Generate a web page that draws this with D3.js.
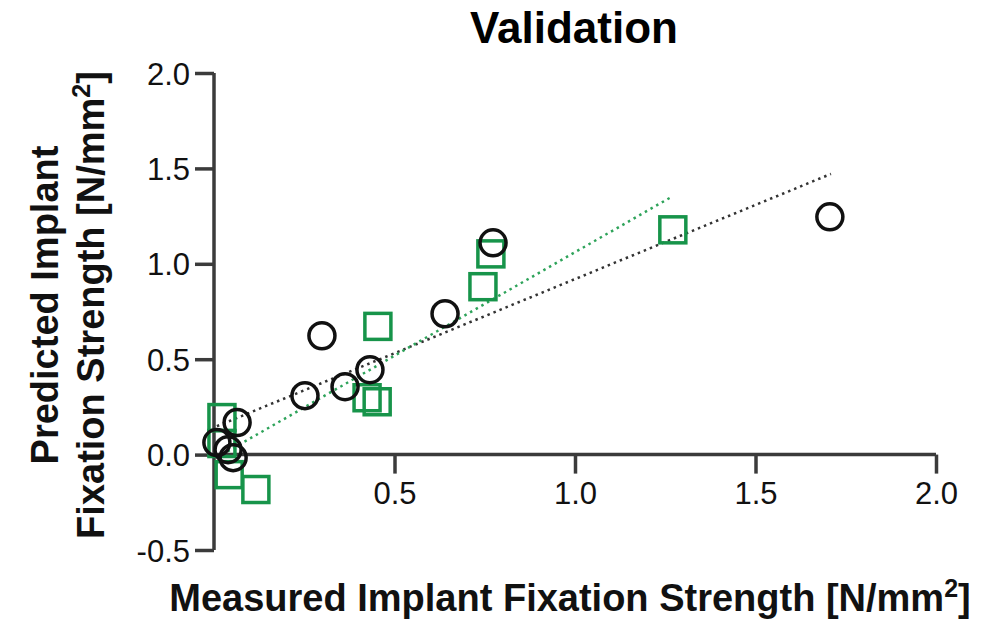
<!DOCTYPE html>
<html>
<head>
<meta charset="utf-8">
<script src="https://cdn.jsdelivr.net/npm/d3@7"></script>
<style>
  body { margin: 0; background: #fff; }
  text { font-family: "Liberation Sans", Arial, sans-serif; }
</style>
</head>
<body>
<div id="chart"></div>
<script>
// measured (x) vs predicted (y) fixation strength
var circleX = [1.706, 0.773, 0.640, 0.299, 0.432, 0.363, 0.252, 0.064, 0.008, 0.039, 0.053];
var circleY = [1.246, 1.110, 0.738, 0.623, 0.445, 0.356, 0.309, 0.168, 0.063, 0.026, -0.016];
var squareX = [1.271, 0.767, 0.745, 0.454, 0.424, 0.452, 0.022, 0.022, 0.042, 0.116];
var squareY = [1.178, 1.052, 0.880, 0.672, 0.298, 0.277, 0.194, 0.058, -0.105, -0.183];
// fitted lines, end points
var circleFitX = [0.008, 1.709];
var circleFitY = [0.149, 1.471];
var squareFitX = [0.022, 1.263];
var squareFitY = [0.000, 1.346];
var xTicks = [0.5, 1.0, 1.5, 2.0];
var yTicks = [-0.5, 0.0, 0.5, 1.0, 1.5, 2.0];

var width = 985, height = 619;
var axisColor = "#3b3b3b", green = "#17944a";

var svg = d3.select("#chart")
    .append("svg")
    .attr("width", width)
    .attr("height", height);

var x = d3.scaleLinear().domain([0, 2]).range([214, 936]);
var y = d3.scaleLinear().domain([-0.5, 2]).range([550, 73]);

// plain hyphen for negatives, like the original
var fmt = function (d) { return d.toFixed(1); };

// y axis sits at x = 0
var yAxis = svg.append("g")
    .attr("transform", "translate(" + x(0) + ",0)")
    .call(d3.axisLeft(y).tickValues(yTicks).tickFormat(fmt).tickSize(19).tickPadding(5));

// x axis sits at y = 0
var xAxis = svg.append("g")
    .attr("transform", "translate(0," + y(0) + ")")
    .call(d3.axisBottom(x).tickValues(xTicks).tickFormat(fmt).tickSize(19).tickPadding(8));

[xAxis, yAxis].forEach(function (g) {
    g.select(".domain").attr("stroke", axisColor).attr("stroke-width", 3.5);
    g.selectAll(".tick line").attr("stroke", axisColor).attr("stroke-width", 3.5);
    g.selectAll(".tick text")
        .attr("fill", "#111")
        .style("font-size", "31px")
        .style("font-family", "'Liberation Sans', Arial, sans-serif");
});
yAxis.select(".domain").attr("d", "M0," + y(2) + "V" + y(-0.5));
xAxis.select(".domain").attr("d", "M" + x(0) + ",0H" + x(2));
yAxis.selectAll(".tick text").attr("dy", "0.36em");

// fit lines
var line = d3.line()
    .x(function (d) { return x(d[0]); })
    .y(function (d) { return y(d[1]); });

svg.append("path")
    .datum(d3.zip(circleFitX, circleFitY))
    .attr("d", line)
    .attr("fill", "none")
    .attr("stroke", "#333")
    .attr("stroke-width", 2.5)
    .attr("stroke-dasharray", "2.5,4");

svg.append("path")
    .datum(d3.zip(squareFitX, squareFitY))
    .attr("d", line)
    .attr("fill", "none")
    .attr("stroke", "#2ea35a")
    .attr("stroke-width", 2.5)
    .attr("stroke-dasharray", "2.5,4");

// squares
var side = 26;
svg.append("g")
    .selectAll("rect")
    .data(d3.zip(squareX, squareY))
    .enter()
    .append("rect")
    .attr("x", function (d) { return x(d[0]) - side / 2; })
    .attr("y", function (d) { return y(d[1]) - side / 2; })
    .attr("width", side)
    .attr("height", side)
    .attr("fill", "none")
    .attr("stroke", green)
    .attr("stroke-width", 3.5);

// circles
svg.append("g")
    .selectAll("circle")
    .data(d3.zip(circleX, circleY))
    .enter()
    .append("circle")
    .attr("cx", function (d) { return x(d[0]); })
    .attr("cy", function (d) { return y(d[1]); })
    .attr("r", 13)
    .attr("fill", "none")
    .attr("stroke", "#111")
    .attr("stroke-width", 3.5);

// title
svg.append("text")
    .attr("x", 574)
    .attr("y", 43)
    .attr("text-anchor", "middle")
    .attr("font-weight", "bold")
    .style("font-size", "44px")
    .attr("fill", "#000")
    .text("Validation");

// x label
var xl = svg.append("text")
    .attr("x", 570)
    .attr("y", 611)
    .attr("text-anchor", "middle")
    .attr("font-weight", "bold")
    .style("font-size", "38px")
    .attr("fill", "#111");
xl.append("tspan").text("Measured Implant Fixation Strength [N/mm");
xl.append("tspan").attr("dy", -14).style("font-size", "25px").text("2");
xl.append("tspan").attr("dy", 14).text("]");

// y label, two lines
var yl = svg.append("g").attr("transform", "translate(0,305) rotate(-90)");
yl.append("text")
    .attr("x", 0)
    .attr("y", 58)
    .attr("text-anchor", "middle")
    .attr("font-weight", "bold")
    .style("font-size", "38px")
    .attr("fill", "#111")
    .text("Predicted Implant");
var yl2 = yl.append("text")
    .attr("x", 0)
    .attr("y", 104)
    .attr("text-anchor", "middle")
    .attr("font-weight", "bold")
    .style("font-size", "38px")
    .attr("fill", "#111");
yl2.append("tspan").text("Fixation Strength [N/mm");
yl2.append("tspan").attr("dy", -14).style("font-size", "25px").text("2");
yl2.append("tspan").attr("dy", 14).text("]");
</script>
</body>
</html>
